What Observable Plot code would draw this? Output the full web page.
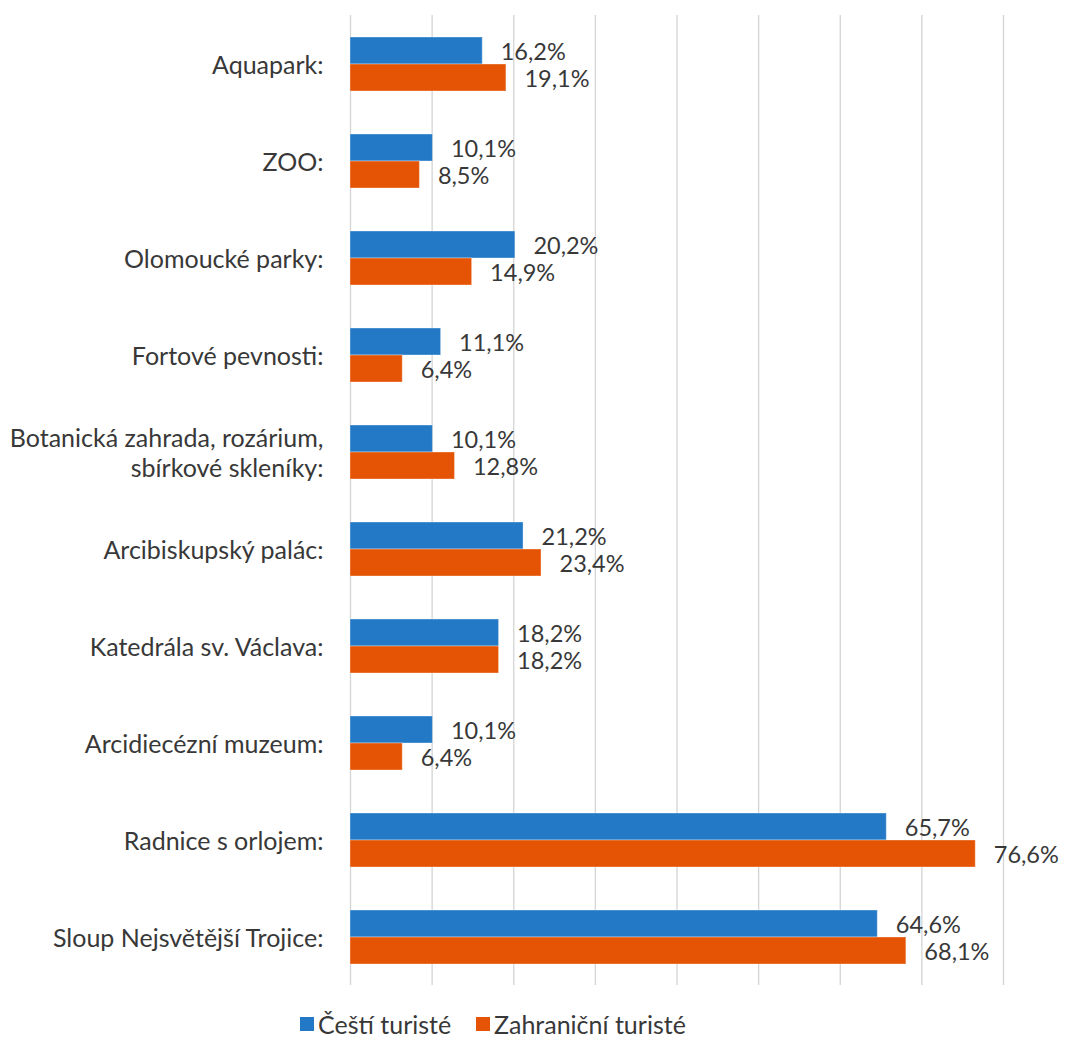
<!DOCTYPE html>
<html>
<head>
<meta charset="utf-8">
<script src="https://cdn.jsdelivr.net/npm/d3@7"></script>
<script src="https://cdn.jsdelivr.net/npm/@observablehq/plot@0.6"></script>
<style>
  html, body { margin: 0; padding: 0; background: #fff; }
  body { width: 1077px; height: 1041px; overflow: hidden; font-family: Lato, "Open Sans", sans-serif; color: #383838; }
  #chart svg { display: block; }
  #legend { position: relative; height: 41px; }
  .item { position: absolute; top: 12px; display: flex; align-items: center; font-size: 25px; line-height: 24px; }
  .sw { width: 14px; height: 14px; margin-right: 4px; }
</style>
</head>
<body>
<div id="chart"></div>
<div id="legend"></div>
<script>
const categories = [
  "Aquapark:",
  "ZOO:",
  "Olomoucké parky:",
  "Fortové pevnosti:",
  "Botanická zahrada, rozárium,\nsbírkové skleníky:",
  "Arcibiskupský palác:",
  "Katedrála sv. Václava:",
  "Arcidiecézní muzeum:",
  "Radnice s orlojem:",
  "Sloup Nejsvětější Trojice:"
];
const seriesNames = ["Čeští turisté", "Zahraniční turisté"];
const czech   = [16.2, 10.1, 20.2, 11.1, 10.1, 21.2, 18.2, 10.1, 65.7, 64.6];
const foreign = [19.1,  8.5, 14.9,  6.4, 12.8, 23.4, 18.2,  6.4, 76.6, 68.1];
const colors = ["#2479c6", "#e55304"];
const gridTicks = [0, 10, 20, 30, 40, 50, 60, 70, 80];

const data = [];
categories.forEach((c, i) => {
  data.push({cat: c, series: seriesNames[0], value: czech[i]});
  data.push({cat: c, series: seriesNames[1], value: foreign[i]});
});
const fmt = v => d3.format(".1f")(v).replace(".", ",") + "%";

const chart = Plot.plot({
  width: 1077,
  height: 1000,
  marginLeft: 350,
  marginRight: 74,
  marginTop: 12,
  marginBottom: 12,
  style: {fontFamily: "Lato, 'Open Sans', sans-serif", fontSize: "24px", color: "#383838", background: "#fff"},
  x: {domain: [0, 80], axis: null},
  y: {domain: seriesNames, axis: null, paddingInner: 0, paddingOuter: 0.74},
  fy: {domain: categories, axis: null, padding: 0},
  color: {domain: seriesNames, range: colors},
  marks: [
    Plot.ruleX(gridTicks, {stroke: "#d4d4d4", strokeWidth: 1.3}),
    Plot.barX(data, {fy: "cat", y: "series", x: "value", fill: "series", stroke: "#ffffff", strokeOpacity: 0.35, strokeWidth: 1}),
    Plot.text(data, {fy: "cat", y: "series", x: "value", text: d => fmt(d.value), textAnchor: "start", dx: 18, dy: 1, fontSize: 23.5, fill: "#383838"}),
    Plot.text(categories, {fy: d => d, text: d => d, frameAnchor: "left", textAnchor: "end", dx: -27, lineHeight: 1.2, fontSize: 25, fill: "#383838"})
  ]
});
document.getElementById("chart").appendChild(chart);

const legend = document.getElementById("legend");
const lx = [300, 476];
seriesNames.forEach((s, i) => {
  const it = document.createElement("div");
  it.className = "item";
  it.style.left = lx[i] + "px";
  it.innerHTML = `<span class="sw" style="background:${colors[i]}"></span><span>${s}</span>`;
  legend.appendChild(it);
});
</script>
</body>
</html>
